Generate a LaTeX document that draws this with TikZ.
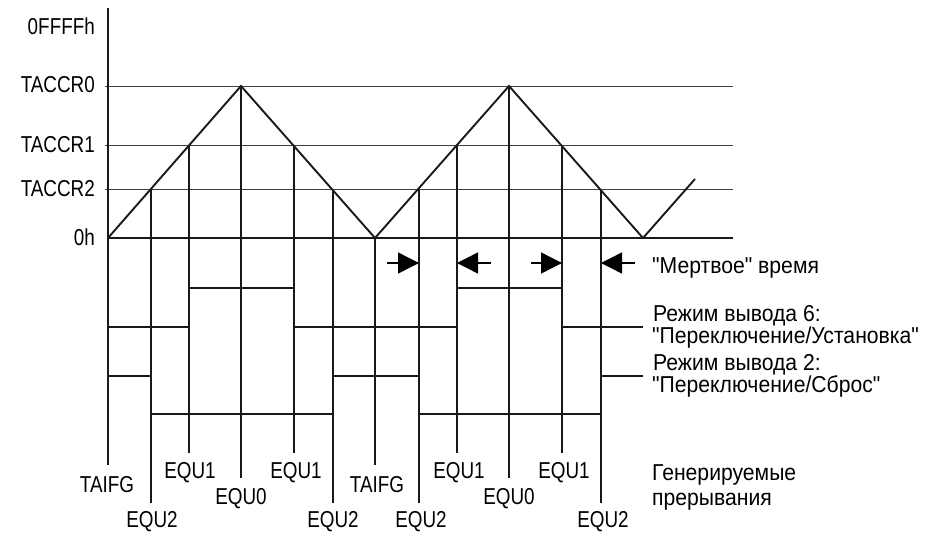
\documentclass[tikz,border=0pt]{standalone}
\usepackage{fontspec}
\setmainfont{Liberation Sans}
\newfontfamily\latf[FakeStretch=0.82]{Liberation Sans}
\newfontfamily\cyrf[FakeStretch=0.92]{Liberation Sans}
\usetikzlibrary{arrows.meta}
\tikzset{
  thick line/.style={line width=1.9pt, draw=black!90},
  level line/.style={line width=0.9pt, draw=black!75},
  deadarrow/.style={line width=1.4pt, -{Triangle[length=21pt,width=21pt]}},
  axislabel/.style={anchor=base east, inner sep=0pt, font=\latf\fontsize{23}{27}\selectfont, text=black},
  evlabel/.style={anchor=base, inner sep=0pt, font=\latf\fontsize{23}{27}\selectfont, text=black},
  rtext/.style={anchor=base west, inner sep=0pt, font=\cyrf\fontsize{23}{27}\selectfont, text=black},
}
\begin{document}
\begin{tikzpicture}[x=1pt,y=-1pt]
\useasboundingbox (0,0) rectangle (925,538);
% axis
\coordinate (axtop) at (108,8);
\coordinate (axbot) at (108,465);
% levels
\coordinate (L0a) at (105,86);  \coordinate (L0b) at (733,86);
\coordinate (L1a) at (105,145); \coordinate (L1b) at (733,145);
\coordinate (L2a) at (105,189); \coordinate (L2b) at (733,189);
\coordinate (Za) at (108,238);  \coordinate (Zb) at (733,238);
% axis labels
\node[axislabel] (lF) at (95,34) {0FFFFh};
\node[axislabel] (l0) at (95,92) {TACCR0};
\node[axislabel] (l1) at (95,152) {TACCR1};
\node[axislabel] (l2) at (95,196) {TACCR2};
\node[axislabel] (lz) at (95,245) {0h};
% level lines
\draw[level line] (L0a) -- (L0b);
\draw[level line] (L1a) -- (L1b);
\draw[level line] (L2a) -- (L2b);
\draw[thick line, line width=2.2pt] (Za) -- (Zb);
\draw[thick line] (axtop) -- (axbot);
% counter triangle
\coordinate (T0) at (108,238);
\coordinate (P1) at (241,86);
\coordinate (V1) at (375,238);
\coordinate (P2) at (509,86);
\coordinate (V2) at (643,238);
\coordinate (TE) at (695,179);
\draw[thick line, line join=miter] (T0) -- (P1) -- (V1) -- (P2) -- (V2) -- (TE);
% event lines: top points and bottom ends
\foreach \n/\x/\yt/\yb in {a/151/189/503, b/189/145/453, c/241/86/478, d/294/145/453, e/333/189/503,
                          f/375/238/465, g/419/189/503, h/457/145/453, i/509/86/478, j/562/145/453, k/601/189/503}{
  \coordinate (ev\n t) at (\x,\yt);
  \coordinate (ev\n b) at (\x,\yb);
  \draw[thick line] (ev\n t) -- (ev\n b);
}
% output mode 6
\coordinate (m6s) at (108,327);
\coordinate (m6e) at (643,327);
\draw[thick line] (m6s) -- (189,327) -- (189,288) -- (294,288) -- (294,327) -- (457,327)
   -- (457,288) -- (562,288) -- (562,327) -- (m6e);
% output mode 2
\coordinate (m2s) at (108,376);
\coordinate (m2e) at (643,376);
\draw[thick line] (m2s) -- (151,376) -- (151,414) -- (333,414) -- (333,376) -- (419,376)
   -- (419,414) -- (601,414) -- (601,376) -- (m2e);
% dead time arrows
\coordinate (d1s) at (387,263); \coordinate (d1e) at (419,263);
\coordinate (d2s) at (491,263); \coordinate (d2e) at (457,263);
\coordinate (d3s) at (531,263); \coordinate (d3e) at (562,263);
\coordinate (d4s) at (635,263); \coordinate (d4e) at (601,263);
\draw[deadarrow] (d1s) -- (d1e);
\draw[deadarrow] (d2s) -- (d2e);
\draw[deadarrow] (d3s) -- (d3e);
\draw[deadarrow] (d4s) -- (d4e);
% right texts
\node[rtext] (tdead) at (652,273) {"Мертвое" время};
\node[rtext] (tm6a) at (653,321) {Режим вывода 6:};
\node[rtext] (tm6b) at (652,343) {"Переключение/Установка"};
\node[rtext] (tm2a) at (653,370) {Режим вывода 2:};
\node[rtext] (tm2b) at (652,392) {"Переключение/Сброс"};
\node[rtext] (tgen1) at (652,480) {Генерируемые};
\node[rtext] (tgen2) at (652,505) {прерывания};
% event labels
\node[evlabel] (eTA1) at (107,492) {TAIFG};
\node[evlabel] (eA) at (152,527) {EQU2};
\node[evlabel] (eB) at (190,478) {EQU1};
\node[evlabel] (eC) at (241,504) {EQU0};
\node[evlabel] (eD) at (296,478) {EQU1};
\node[evlabel] (eE) at (333,527) {EQU2};
\node[evlabel] (eTA2) at (377,492) {TAIFG};
\node[evlabel] (eG) at (421,527) {EQU2};
\node[evlabel] (eH) at (459,478) {EQU1};
\node[evlabel] (eI) at (509,504) {EQU0};
\node[evlabel] (eJ) at (564,478) {EQU1};
\node[evlabel] (eK) at (603,527) {EQU2};
\end{tikzpicture}
\end{document}
